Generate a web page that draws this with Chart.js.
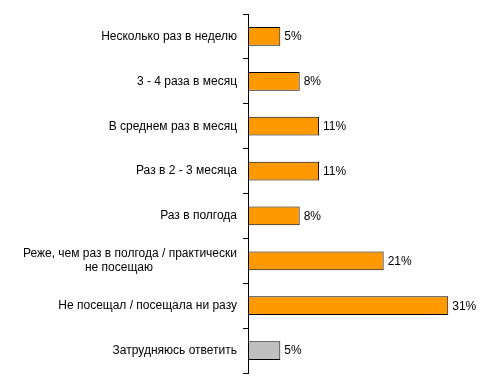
<!DOCTYPE html>
<html><head><meta charset="utf-8">
<script src="https://cdn.jsdelivr.net/npm/chart.js@4"></script>
<style>html,body{margin:0;padding:0;background:#fff}#wrap{width:489px;height:388px}</style>
</head><body><div id="wrap"><canvas id="c"></canvas></div>
<script>
const categories = [
  "Несколько раз в неделю",
  "3 - 4 раза в месяц",
  "В среднем раз в месяц",
  "Раз в 2 - 3 месяца",
  "Раз в полгода",
  ["Реже, чем раз в полгода / практически", "не посещаю\u2003\u2003\u2003\u2003\u2003\u2003\u2003"],
  "Не посещал / посещала ни разу",
  "Затрудняюсь ответить"
];
const values = [5, 8, 11, 11, 8, 21, 31, 5];
const barColors = ["#FF9900","#FF9900","#FF9900","#FF9900","#FF9900","#FF9900","#FF9900","#C0C0C0"];

const FONT = "'Liberation Sans', Arial, sans-serif";

const valueLabels = {
  id: 'valueLabels',
  afterDatasetsDraw(chart) {
    const ctx = chart.ctx;
    const meta = chart.getDatasetMeta(0);
    ctx.save();
    ctx.font = "12px " + FONT;
    ctx.fillStyle = "#000";
    ctx.textAlign = "left";
    ctx.textBaseline = "middle";
    meta.data.forEach((bar, i) => {
      ctx.fillText(values[i] + "%", bar.x + 4, bar.y + 0.5);
    });
    ctx.restore();
  }
};

new Chart(document.getElementById('c'), {
  type: 'bar',
  data: {
    labels: categories,
    datasets: [{
      data: values,
      backgroundColor: barColors,
      borderColor: "#000",
      borderWidth: 1,
      borderSkipped: false,
      categoryPercentage: 1,
      barPercentage: 0.42
    }]
  },
  options: {
    indexAxis: 'y',
    responsive: true,
    maintainAspectRatio: false,
    animation: false,
    layout: { padding: { top: 14, bottom: 15, left: 0, right: 2 } },
    plugins: { legend: { display: false }, tooltip: { enabled: false } },
    scales: {
      x: { display: false, min: 0, max: 37 },
      y: {
        afterFit(scale) { scale.width = 248; },
        border: { display: true, color: "#000", width: 1 },
        grid: { display: true, drawOnChartArea: false, drawTicks: true, tickLength: 5, offset: true, color: "#000", tickColor: "#000" },
        ticks: { color: "#000", font: { family: FONT, size: 12 }, padding: 6, autoSkip: false }
      }
    }
  },
  plugins: [valueLabels]
});
</script>
</body></html>
